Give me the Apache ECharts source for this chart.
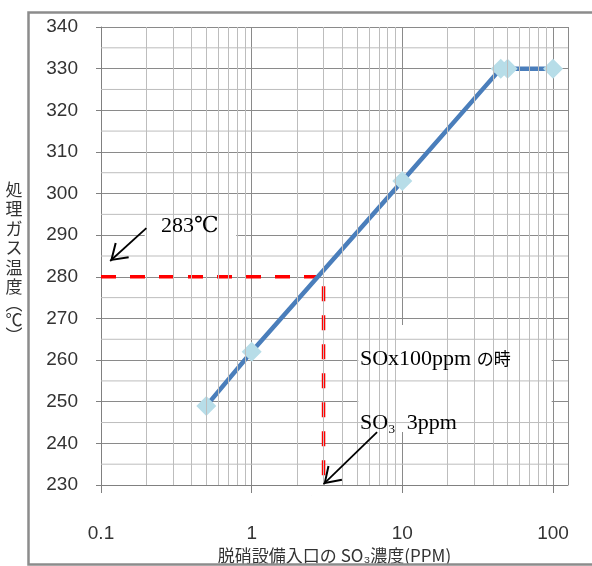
<!DOCTYPE html>
<html>
<head>
<meta charset="utf-8">
<title>処理ガス温度</title>
<script src="https://cdn.jsdelivr.net/npm/echarts@6/dist/echarts.min.js"></script>
<style>
html, body { margin: 0; padding: 0; background: #fff; }
#chart { width: 592px; height: 566px; }
</style>
</head>
<body>
<div id="chart"></div>
<script>
// data
var so3Ppm = [0.5, 1, 10, 45, 50, 100];
var gasTemp = [249, 262, 303, 330, 330, 330];
var xTickLabels = ['0.1', '1', '10', '100'];
var xMin = 0.1, xMax = 100, xFrameMax = 125.8;
var yMin = 230, yMax = 340, yStep = 10;
var readLine = [[0.1, 280], [3, 280], [3, 230]];
var xMinorLines = [0.2, 0.3, 0.4, 0.5, 0.6, 0.7, 0.8, 0.9,
                   2, 3, 4, 5, 6, 7, 8, 9,
                   20, 30, 40, 50, 60, 70, 80, 90];
var yMinorLines = [235, 245, 255, 265, 275, 285, 295, 305, 315, 325, 335];
var arrow283 = [[0.2, 291.7], [0.115, 283.8]];
var arrowSo3 = [[6.8, 242.7], [3, 230.2]];
var box283 = [[0.195, 295.6], [0.79, 286]];
var boxSox = [[5.1, 268.4], [98, 242.7]];

var tickFont = "'Liberation Sans', sans-serif";
var jpFont = "'Noto Sans CJK JP', sans-serif";
var serifFont = "'Liberation Serif', 'DejaVu Serif', 'Noto Sans CJK JP', serif";
var majorGrid = '#8a8a8a';
var minorGrid = '#bdbdbd';
var axisGray = '#808080';
// open chevron, tip placed at the centre of the box so it sits on the end point
var chevron = 'path://M10.5,-16.8 L10.6,-16.8 L10.5,-16.7 Z M10.5,0 L21,15.7 L19.3,16.8 L10.5,3.5 L1.7,16.8 L0,15.7 Z';

// horizontal minor grid lines as one broken line series
var yMinorData = [];
yMinorLines.forEach(function (v) {
    yMinorData.push([xMin, v], [xFrameMax, v], [xFrameMax, '-']);
});

var chart = echarts.init(document.getElementById('chart'));

var option = {
    animation: false,
    grid: [
        { left: 101, top: 27, right: 24, bottom: 81, outerBoundsMode: 'none' },
        { left: 101, top: 27, right: 39, bottom: 81, outerBoundsMode: 'none' }
    ],
    xAxis: [
        {
            gridIndex: 0,
            type: 'log',
            logBase: 10,
            min: xMin,
            max: xFrameMax,
            name: '脱硝設備入口の SO₃濃度(PPM)',
            nameLocation: 'middle',
            nameGap: 62,
            nameTextStyle: { fontFamily: jpFont, fontSize: 17, color: '#333' },
            axisLine: { show: true, lineStyle: { color: axisGray, width: 1 } },
            axisTick: { show: false },
            axisLabel: { show: false },
            splitLine: { show: true, lineStyle: { color: majorGrid, width: 1 } }
        },
        {
            gridIndex: 1,
            type: 'log',
            logBase: 10,
            min: xMin,
            max: xMax,
            axisLine: { show: false },
            axisTick: { show: true, length: 8, lineStyle: { color: axisGray } },
            axisLabel: {
                margin: 39,
                fontFamily: tickFont,
                fontSize: 19,
                color: '#333',
                formatter: function (v) {
                    var i = Math.round(Math.log(v) / Math.LN10) + 1;
                    return xTickLabels[i] || '';
                }
            },
            splitLine: { show: false }
        }
    ],
    yAxis: [
        {
            gridIndex: 0,
            type: 'value',
            min: yMin,
            max: yMax,
            interval: yStep,
            axisLine: { show: true, lineStyle: { color: axisGray, width: 1 } },
            axisTick: { show: true, length: 5, lineStyle: { color: axisGray } },
            axisLabel: { margin: 23, fontFamily: tickFont, fontSize: 19, color: '#333' },
            splitLine: { show: true, lineStyle: { color: majorGrid, width: 1 } }
        },
        {
            gridIndex: 1,
            type: 'value',
            min: yMin,
            max: yMax,
            show: false
        }
    ],
    series: [
        {
            // minor vertical grid lines of the log axis
            type: 'line',
            data: [],
            z: 1,
            silent: true,
            markLine: {
                silent: true,
                animation: false,
                symbol: ['none', 'none'],
                label: { show: false },
                lineStyle: { color: minorGrid, width: 1, type: 'solid' },
                data: xMinorLines.map(function (v) { return { xAxis: v }; })
            }
        },
        {
            // minor horizontal grid lines
            type: 'line',
            data: yMinorData,
            z: 1,
            silent: true,
            symbol: 'none',
            connectNulls: false,
            lineStyle: { color: minorGrid, width: 1 }
        },
        {
            // white text boxes
            type: 'line',
            data: [],
            z: 2,
            silent: true,
            markArea: {
                silent: true,
                animation: false,
                itemStyle: { color: '#fff', opacity: 1 },
                data: [
                    [{ coord: box283[0] }, { coord: box283[1] }],
                    [{ coord: boxSox[0] }, { coord: boxSox[1] }]
                ]
            }
        },
        {
            type: 'line',
            data: readLine,
            z: 3,
            silent: true,
            symbol: 'none',
            lineStyle: { color: '#ff0000', width: 3.5, type: [15, 14] }
        },
        {
            type: 'line',
            data: so3Ppm.map(function (x, i) { return [x, gasTemp[i]]; }),
            z: 4,
            symbol: 'diamond',
            symbolSize: 20,
            lineStyle: { color: '#4a7ebb', width: 4.5 },
            itemStyle: { color: '#b7dde8', opacity: 1 }
        },
        {
            // arrows
            type: 'line',
            data: [],
            z: 5,
            silent: true,
            markLine: {
                silent: true,
                animation: false,
                symbol: ['none', chevron],
                symbolSize: [21, 33.6],
                label: { show: false },
                lineStyle: { color: '#000', width: 1.8, type: 'solid' },
                emphasis: { disabled: true },
                data: [
                    [{ coord: arrow283[0] }, { coord: arrow283[1] }],
                    [{ coord: arrowSo3[0] }, { coord: arrowSo3[1] }]
                ]
            }
        }
    ],
    graphic: [
        {
            type: 'rect',
            z: 10,
            silent: true,
            shape: { x: 28.5, y: 12.5, width: 600, height: 552 },
            style: { fill: 'none', stroke: '#8c8c8c', lineWidth: 2.5 }
        },
        {
            type: 'text',
            z: 10,
            left: 4,
            top: 181,
            style: {
                text: '{c|処}\n{c|理}\n{c|ガ}\n{c|ス}\n{c|温}\n{c|度}\n{p|︵}\n{c|℃}\n{p|︶}',
                fill: '#333',
                fontFamily: jpFont,
                fontSize: 17,
                align: 'center',
                rich: {
                    c: { fontFamily: jpFont, fontSize: 17, lineHeight: 19.5, width: 20, align: 'center' },
                    p: { fontFamily: jpFont, fontSize: 17, lineHeight: 13, width: 20, align: 'center' }
                }
            }
        },
        {
            type: 'text',
            z: 10,
            x: 161,
            y: 226,
            style: {
                text: '283℃',
                fill: '#000',
                fontFamily: serifFont,
                fontSize: 22,
                verticalAlign: 'middle'
            }
        },
        {
            type: 'text',
            z: 10,
            x: 360,
            y: 359,
            style: {
                text: '{a|SOx100ppm }{b|の時}',
                verticalAlign: 'middle',
                rich: {
                    a: { fontFamily: serifFont, fontSize: 22, fill: '#000' },
                    b: { fontFamily: jpFont, fontSize: 17, fill: '#000' }
                }
            }
        },
        {
            type: 'text',
            z: 10,
            x: 360,
            y: 423,
            style: {
                text: 'SO₃  3ppm',
                fill: '#000',
                fontFamily: serifFont,
                fontSize: 22,
                verticalAlign: 'middle'
            }
        }
    ]
};

chart.setOption(option);
</script>
</body>
</html>
